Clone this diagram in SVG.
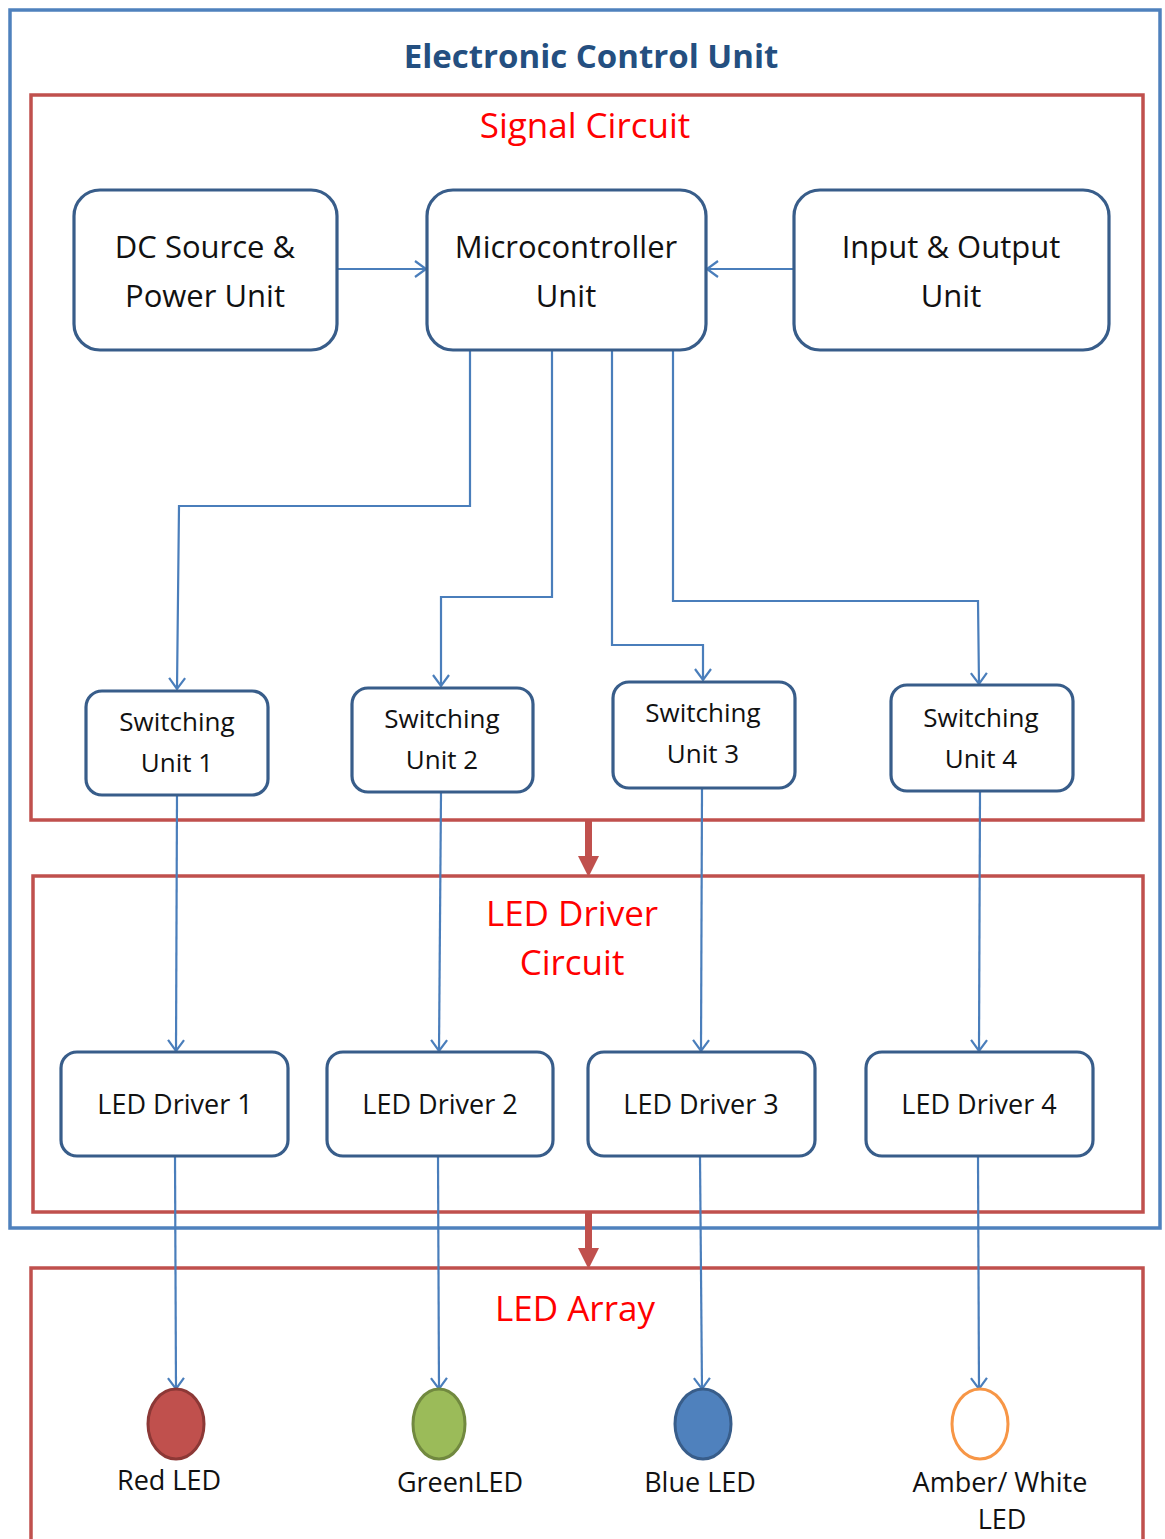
<svg xmlns="http://www.w3.org/2000/svg" width="1165" height="1539" viewBox="0 0 1165 1539">
<style>
.frame{fill:none;stroke:#c0504d;stroke-width:3.5}
.outer{fill:none;stroke:#4f81bd;stroke-width:3.5}
.box{fill:#fff;stroke:#385d8a;stroke-width:3.2}
.conn{fill:none;stroke:#4a7ebb;stroke-width:2.2}
.t{font-family:"Open Sans","DejaVu Sans",sans-serif;fill:#111;text-anchor:middle}
.big{font-size:31px}
.mid{font-size:26px}
.drv{font-size:27px}
.led{font-size:27px}
.lbl{font-family:"Open Sans","DejaVu Sans",sans-serif;fill:#ff0000;text-anchor:middle;font-size:35px}
.blk{fill:#c0504d}
</style>
<defs>
<marker id="ah" markerUnits="userSpaceOnUse" markerWidth="22" markerHeight="22" refX="12" refY="9" orient="auto">
<path d="M1,1 L12,9 L1,17" fill="none" stroke="#4a7ebb" stroke-width="2.2"/>
</marker>
</defs>
<rect width="1165" height="1539" fill="#fff"/>
<g id="ecu">
<rect class="outer" x="10" y="10" width="1150" height="1218"/>
<text x="591" y="68" class="t" style="font-size:33px;font-weight:bold;fill:#244f80">Electronic Control Unit</text>
</g>
<g id="signal-circuit">
<rect class="frame" x="31" y="95" width="1112" height="725"/>
<text x="585" y="138" class="lbl">Signal Circuit</text>
</g>
<g id="led-driver-circuit">
<rect class="frame" x="33" y="876" width="1110" height="336"/>
<text x="572" y="926" class="lbl">LED Driver</text>
<text x="572" y="975" class="lbl">Circuit</text>
</g>
<g id="led-array">
<path class="frame" d="M31,1545 L31,1268 L1143,1268 L1143,1545"/>
<text x="575" y="1321" class="lbl">LED Array</text>
</g>
<g id="connectors">
<line class="conn" x1="337" y1="269" x2="426" y2="269" marker-end="url(#ah)"/>
<line class="conn" x1="794" y1="269" x2="707" y2="269" marker-end="url(#ah)"/>
<polyline class="conn" points="470,351 470,506 179,506 177,689" marker-end="url(#ah)"/>
<polyline class="conn" points="552,351 552,597 441,597 441,686" marker-end="url(#ah)"/>
<polyline class="conn" points="612,351 612,645 703,645 703,680" marker-end="url(#ah)"/>
<polyline class="conn" points="673,351 673,601 978,601 979,684" marker-end="url(#ah)"/>
<line class="conn" x1="177" y1="796" x2="176" y2="1051" marker-end="url(#ah)"/>
<line class="conn" x1="441" y1="793" x2="439" y2="1051" marker-end="url(#ah)"/>
<line class="conn" x1="702" y1="789" x2="701" y2="1051" marker-end="url(#ah)"/>
<line class="conn" x1="980" y1="792" x2="979" y2="1051" marker-end="url(#ah)"/>
<line class="conn" x1="175" y1="1157" x2="176" y2="1389" marker-end="url(#ah)"/>
<line class="conn" x1="438" y1="1157" x2="439" y2="1389" marker-end="url(#ah)"/>
<line class="conn" x1="700" y1="1157" x2="702" y2="1389" marker-end="url(#ah)"/>
<line class="conn" x1="978" y1="1157" x2="979" y2="1389" marker-end="url(#ah)"/>
<path class="blk" d="M585,821 L592,821 L592,856 L599,856 L588.5,877 L578,856 L585,856 Z"/>
<path class="blk" d="M585,1213 L592,1213 L592,1248 L599,1248 L588.5,1269 L578,1248 L585,1248 Z"/>
</g>
<g id="dc-source">
<rect class="box" x="74" y="190" width="263" height="160" rx="26"/>
<text x="205" y="258" class="t big">DC Source &amp;</text>
<text x="205" y="307" class="t big">Power Unit</text>
</g>
<g id="microcontroller">
<rect class="box" x="427" y="190" width="279" height="160" rx="26"/>
<text x="566" y="258" class="t big">Microcontroller</text>
<text x="566" y="307" class="t big">Unit</text>
</g>
<g id="io-unit">
<rect class="box" x="794" y="190" width="315" height="160" rx="26"/>
<text x="951" y="258" class="t big">Input &amp; Output</text>
<text x="951" y="307" class="t big">Unit</text>
</g>
<g id="sw1">
<rect class="box" x="86" y="691" width="182" height="104" rx="16"/>
<text x="177" y="731" class="t mid">Switching</text>
<text x="177" y="772" class="t mid">Unit 1</text>
</g>
<g id="sw2">
<rect class="box" x="352" y="688" width="181" height="104" rx="16"/>
<text x="442" y="728" class="t mid">Switching</text>
<text x="442" y="769" class="t mid">Unit 2</text>
</g>
<g id="sw3">
<rect class="box" x="613" y="682" width="182" height="106" rx="16"/>
<text x="703" y="722" class="t mid">Switching</text>
<text x="703" y="763" class="t mid">Unit 3</text>
</g>
<g id="sw4">
<rect class="box" x="891" y="685" width="182" height="106" rx="16"/>
<text x="981" y="727" class="t mid">Switching</text>
<text x="981" y="768" class="t mid">Unit 4</text>
</g>
<g id="drv1">
<rect class="box" x="61" y="1052" width="227" height="104" rx="16"/>
<text x="175" y="1114" class="t drv">LED Driver 1</text>
</g>
<g id="drv2">
<rect class="box" x="327" y="1052" width="226" height="104" rx="16"/>
<text x="440" y="1114" class="t drv">LED Driver 2</text>
</g>
<g id="drv3">
<rect class="box" x="588" y="1052" width="227" height="104" rx="16"/>
<text x="701" y="1114" class="t drv">LED Driver 3</text>
</g>
<g id="drv4">
<rect class="box" x="866" y="1052" width="227" height="104" rx="16"/>
<text x="979" y="1114" class="t drv">LED Driver 4</text>
</g>
<g id="led-red">
<ellipse cx="176" cy="1424" rx="28" ry="35" fill="#c0504d" stroke="#8c3836" stroke-width="3"/>
<text x="169" y="1490" class="t led">Red LED</text>
</g>
<g id="led-green">
<ellipse cx="439" cy="1424" rx="26" ry="35" fill="#9bbb59" stroke="#71893f" stroke-width="3"/>
<text x="460" y="1492" class="t led">GreenLED</text>
</g>
<g id="led-blue">
<ellipse cx="703" cy="1424" rx="28" ry="35" fill="#4f81bd" stroke="#385d8a" stroke-width="3"/>
<text x="700" y="1492" class="t led">Blue LED</text>
</g>
<g id="led-amber">
<ellipse cx="980" cy="1424" rx="28" ry="35" fill="#fff" stroke="#f79646" stroke-width="3"/>
<text x="1000" y="1492" class="t led">Amber/ White</text>
<text x="1002" y="1529" class="t led">LED</text>
</g>
</svg>
